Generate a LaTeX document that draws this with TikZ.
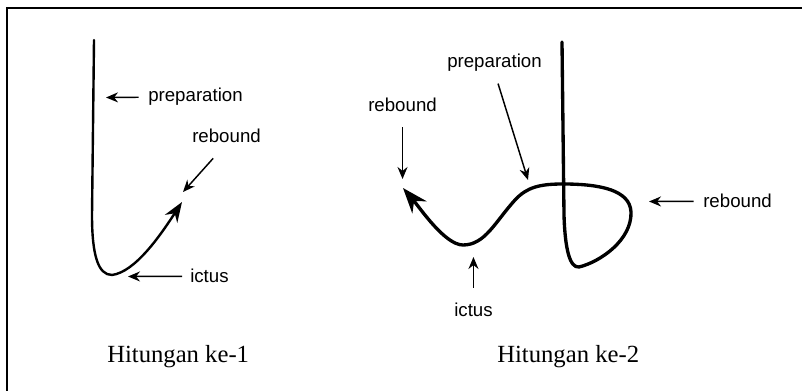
\documentclass[tikz,border=0pt]{standalone}
\usepackage{fontspec}
\setmainfont{Liberation Serif}
\setsansfont{Liberation Sans}
\usetikzlibrary{arrows.meta}
\tikzset{
    lbl/.style={font=\sffamily\fontsize{14}{16}\selectfont,inner sep=0pt,anchor=base west},
    caption/.style={font=\fontsize{18.5}{22}\selectfont,inner sep=0pt,anchor=base west},
    pointer/.style={draw,-{Stealth[length=9pt,width=7.5pt]},line width=1.1pt},
    beat/.style={draw,line width=1.8pt,line cap=round},
}

\begin{document}
\begin{tikzpicture}[x=0.75pt,y=-0.75pt]
    \useasboundingbox (0,0) rectangle (802,391);
    \draw[line width=1.5pt] (7,391) -- (7,8) -- (802,8);

    % first beat
    \node[lbl] (prepA) at (148,102) {preparation};
    \node[lbl] (rebA) at (192,143) {rebound};
    \node[lbl] (ictA) at (190,283) {ictus};
    \node[caption] (capA) at (107,362) {Hitungan ke-1};
    \coordinate (prepAend) at (106,97.5);
    \coordinate (rebAend) at (183,192);
    \coordinate (ictAend) at (128,276.5);

    \draw[beat,-{Stealth[length=15pt,width=11pt]}] (94,40) -- (92,215)
        .. controls (92,255) and (98,275) .. (112,275)
        .. controls (135,272) and (160,236) .. (182,202);

    \draw[pointer,shorten <=7pt] (prepA.west) -- (prepAend);
    \draw[pointer,shorten <=15pt] (rebA.south) -- (rebAend);
    \draw[pointer,shorten <=6pt] (ictA.west) -- (ictAend);

    % second beat
    \node[lbl] (prepB) at (447,68) {preparation};
    \node[lbl] (rebB) at (368,112) {rebound};
    \node[lbl] (rebC) at (703,208) {rebound};
    \node[lbl] (ictB) at (454,316) {ictus};
    \node[caption] (capB) at (497,362) {Hitungan ke-2};
    \coordinate (prepBend) at (528,180);
    \coordinate (rebBend) at (rebB.south |- 0,179);
    \coordinate (rebCend) at (649,201.5);
    \coordinate (ictBend) at (ictB.north |- 0,257);

    \draw[beat,line width=2.5pt,-{Stealth[length=19pt,width=14pt]}] (562,42) -- (564,215)
        .. controls (565,250) and (570,268) .. (579,267)
        .. controls (600,262) and (632,240) .. (631,212)
        .. controls (630,190) and (600,184) .. (563,184)
        .. controls (540,184) and (527,187) .. (515,200)
        .. controls (495,222) and (485,245) .. (463,245)
        .. controls (445,245) and (420,208) .. (403,188);

    \draw[pointer,shorten <=9pt] (prepB.south) -- (prepBend);
    \draw[pointer,shorten <=11pt] (rebB.south) -- (rebBend);
    \draw[pointer,shorten <=7pt] (rebC.west) -- (rebCend);
    \draw[pointer,shorten <=11pt] (ictB.north) -- (ictBend);
\end{tikzpicture}
\end{document}
